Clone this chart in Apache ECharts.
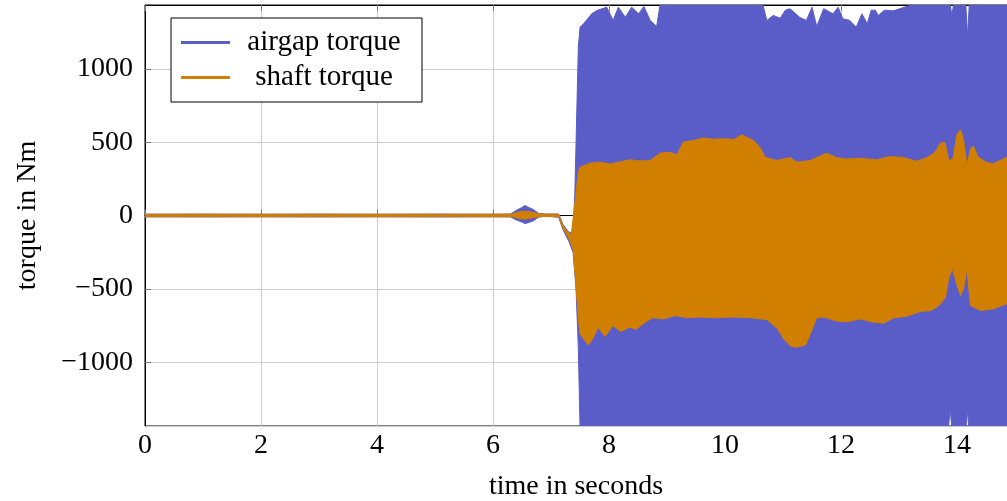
<!DOCTYPE html>
<html>
<head>
<meta charset="utf-8">
<script src="https://cdn.jsdelivr.net/npm/echarts@6/dist/echarts.min.js"></script>
<style>
  html, body { margin: 0; padding: 0; background: #fff; }
  #chart { width: 1007px; height: 501px; }
</style>
</head>
<body>
<div id="chart"></div>
<script>
// envelopes (time in s, torque in Nm)
const airgapUpT = [0, 1, 2, 3, 4, 5, 6, 6.3, 6.4, 6.5, 6.55, 6.6, 6.7, 6.78, 6.9, 7.13, 7.21, 7.3, 7.35, 7.38, 7.41, 7.44, 7.47, 7.5, 7.56, 7.7, 7.79, 7.96, 8.07, 8.16, 8.28, 8.39, 8.51, 8.6, 8.71, 8.82, 8.88, 10.65, 10.72, 10.83, 10.95, 11.04, 11.12, 11.29, 11.4, 11.5, 11.58, 11.7, 11.86, 11.95, 12.03, 12.15, 12.26, 12.36, 12.45, 12.52, 12.59, 12.64, 12.75, 12.9, 13.25, 13.88, 13.91, 13.94, 14.15, 14.18, 14.21, 14.86];
const airgapUp = [9, 10, 9, 10, 9, 10, 9, 10, 35, 55, 68, 58, 40, 15, 10, 10, -65, -110, -118, -100, 150, 650, 1150, 1284, 1307, 1375, 1398, 1420, 1330, 1420, 1352, 1420, 1375, 1425, 1330, 1289, 1440, 1440, 1330, 1364, 1345, 1400, 1409, 1350, 1330, 1420, 1289, 1410, 1375, 1420, 1341, 1330, 1284, 1375, 1307, 1400, 1400, 1364, 1400, 1395, 1440, 1440, 1364, 1440, 1440, 1218, 1440, 1440];
const airgapLoT = [0, 1, 2, 3, 4, 5, 6, 6.3, 6.4, 6.5, 6.55, 6.6, 6.7, 6.78, 6.9, 7.13, 7.21, 7.3, 7.38, 7.43, 7.47, 7.5, 13.85, 13.88, 13.91, 14.15, 14.18, 14.2, 14.86];
const airgapLo = [-9, -10, -9, -10, -9, -10, -9, -10, -30, -45, -55, -50, -35, -12, -5, -12, -100, -170, -250, -500, -900, -1450, -1450, -1316, -1450, -1450, -1330, -1450, -1450];

const shaftUpT = [0, 1, 2, 3, 4, 5, 6, 6.33, 6.45, 6.55, 6.65, 6.78, 6.9, 7.13, 7.21, 7.3, 7.35, 7.41, 7.47, 7.5, 7.67, 7.84, 8.02, 8.19, 8.36, 8.53, 8.71, 8.88, 9.05, 9.17, 9.28, 9.45, 9.63, 9.8, 9.97, 10.15, 10.29, 10.49, 10.6, 10.69, 10.89, 11.12, 11.24, 11.47, 11.75, 11.92, 12.09, 12.32, 12.61, 12.84, 13.07, 13.3, 13.48, 13.62, 13.71, 13.79, 13.86, 13.93, 14.0, 14.06, 14.11, 14.17, 14.23, 14.28, 14.36, 14.5, 14.62, 14.74, 14.86];
const shaftUp = [8, 8, 8, 8, 8, 8, 8, 10, 25, 30, 25, 12, 10, 8, -72, -118, -126, 80, 300, 329, 357, 363, 352, 365, 380, 372, 375, 425, 431, 415, 500, 511, 529, 520, 524, 518, 550, 511, 466, 397, 375, 395, 363, 375, 425, 395, 385, 390, 380, 402, 395, 370, 395, 431, 493, 499, 370, 390, 556, 584, 520, 341, 455, 474, 400, 363, 352, 375, 397];
const shaftLoT = [0, 1, 2, 3, 4, 5, 6, 6.33, 6.45, 6.55, 6.65, 6.78, 6.9, 7.13, 7.21, 7.3, 7.38, 7.43, 7.47, 7.5, 7.64, 7.72, 7.81, 7.93, 8.07, 8.2, 8.36, 8.47, 8.62, 8.76, 8.94, 9.14, 9.34, 9.57, 9.86, 10.15, 10.44, 10.72, 10.9, 11.01, 11.13, 11.24, 11.39, 11.47, 11.58, 11.7, 11.93, 12.1, 12.33, 12.56, 12.74, 12.91, 13.14, 13.37, 13.55, 13.69, 13.8, 13.86, 13.92, 13.99, 14.06, 14.11, 14.17, 14.23, 14.4, 14.63, 14.86];
const shaftLo = [-8, -8, -8, -8, -8, -8, -8, -8, -20, -25, -18, -8, -5, -8, -90, -150, -230, -480, -700, -807, -882, -841, -761, -825, -750, -791, -761, -775, -727, -697, -705, -682, -697, -692, -697, -692, -697, -709, -770, -841, -891, -898, -882, -807, -697, -692, -720, -725, -705, -727, -734, -697, -686, -654, -648, -613, -557, -420, -363, -466, -545, -500, -363, -613, -648, -636, -602];

const seriesNames = ["airgap torque", "shaft torque"];
const colors = ["#5a5cc8", "#d17f00"];

const font = "'Liberation Serif', 'DejaVu Serif', serif";

// filled band between an upper and a lower envelope
function band(tUp, up, tLo, lo, color) {
  return function (params, api) {
    const pts = [];
    tUp.forEach((t, i) => pts.push(api.coord([t, up[i]])));
    for (let i = tLo.length - 1; i >= 0; i--) pts.push(api.coord([tLo[i], lo[i]]));
    const cs = params.coordSys;
    return {
      type: "polygon",
      shape: { points: pts },
      style: { fill: color, stroke: color, lineWidth: 1 },
      clipPath: { type: "rect", shape: { x: cs.x, y: cs.y, width: cs.width, height: cs.height } }
    };
  };
}

const chart = echarts.init(document.getElementById("chart"));

chart.setOption({
  animation: false,
  grid: {
    left: 145, right: 0, top: 5, bottom: 75,
    outerBoundsMode: "none",
    show: true, borderColor: "#000", borderWidth: 1
  },
  legend: {
    left: 171, top: 18,
    orient: "vertical",
    data: seriesNames.map(n => ({ name: n, icon: "rect" })),
    itemWidth: 49, itemHeight: 3, itemGap: 6,
    padding: [10, 9, 10, 10],
    borderColor: "#000", borderWidth: 1, backgroundColor: "#fff",
    formatter: n => "{a|" + n + "}",
    textStyle: {
      fontFamily: font, fontSize: 29, color: "#000",
      rich: { a: { fontFamily: font, fontSize: 29, width: 178, align: "center", lineHeight: 30 } }
    }
  },
  xAxis: [{
    type: "value", min: 0, max: 14.86, splitNumber: 7,
    name: "time in seconds", nameLocation: "middle", nameGap: 47,
    nameTextStyle: { fontFamily: font, fontSize: 28, color: "#000" },
    axisLine: { lineStyle: { color: "#000" } },
    axisTick: { inside: true, length: 6, lineStyle: { color: "#777" } },
    axisLabel: { fontFamily: font, fontSize: 28, color: "#000", margin: 6, showMaxLabel: false },
    splitLine: { lineStyle: { color: "#cccccc" } }
  }, {
    type: "value", position: "top", min: 0, max: 14.86, splitNumber: 7,
    axisLine: { lineStyle: { color: "#000" } },
    axisTick: { inside: true, length: 6, lineStyle: { color: "#777" } },
    axisLabel: { show: false }, splitLine: { show: false }
  }],
  yAxis: {
    type: "value", min: -1435, max: 1435, splitNumber: 5,
    name: "torque in Nm", nameLocation: "middle", nameGap: 103,
    nameTextStyle: { fontFamily: font, fontSize: 28, color: "#000" },
    axisLine: { show: true, lineStyle: { color: "#000" } },
    axisTick: { show: true, inside: true, length: 6, lineStyle: { color: "#777" } },
    axisLabel: {
      fontFamily: font, fontSize: 28, color: "#000", margin: 12,
      showMinLabel: false, showMaxLabel: false,
      formatter: v => (v < 0 ? "\u2212" + Math.abs(v) : String(v))
    },
    splitLine: { lineStyle: { color: "#cccccc" } }
  },
  series: [
    {
      name: seriesNames[0], type: "custom", data: [[0, 0]],
      itemStyle: { color: colors[0] },
      renderItem: band(airgapUpT, airgapUp, airgapLoT, airgapLo, colors[0])
    },
    {
      name: seriesNames[1], type: "custom", data: [[0, 0]],
      itemStyle: { color: colors[1] },
      renderItem: band(shaftUpT, shaftUp, shaftLoT, shaftLo, colors[1])
    }
  ]
});
</script>
</body>
</html>
